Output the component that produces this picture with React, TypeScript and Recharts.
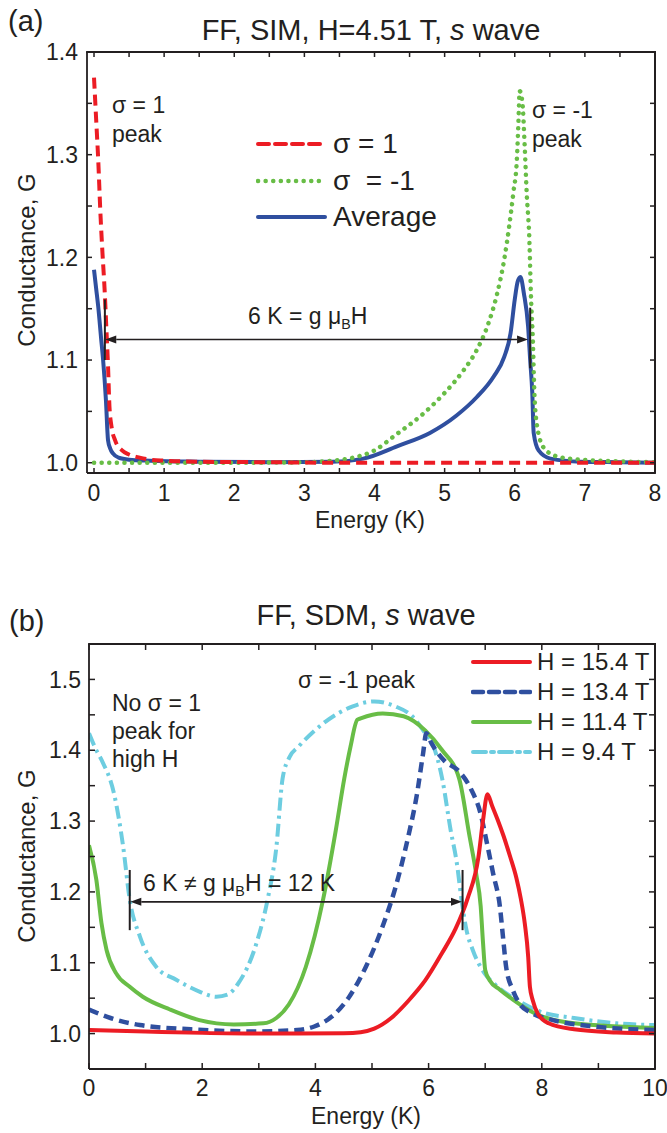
import React from "react";
import { LineChart, Line, XAxis, YAxis, ReferenceLine } from "recharts";

const FONT = '"Liberation Sans", Arial, Helvetica, sans-serif';
const INK = "#231f20";
const RED = "#ec1c24";
const BLUE = "#2f4f9f";
const GREEN = "#68bd46";
const CYAN = "#6dcde0";

// ---- panel (a): FF, SIM, H=4.51 T ----
const A_X_DOMAIN = [-0.1, 8];
const A_Y_DOMAIN = [0.99, 1.4];
const A_X_TICKS = [0, 0.5, 1, 1.5, 2, 2.5, 3, 3.5, 4, 4.5, 5, 5.5, 6, 6.5, 7, 7.5, 8];
const A_Y_TICKS = [1.0, 1.05, 1.1, 1.15, 1.2, 1.25, 1.3, 1.35, 1.4];

const A_UP_E = [0, 0.03, 0.06, 0.09, 0.12, 0.15, 0.18, 0.2, 0.22, 0.25, 0.3, 0.4, 0.5, 0.65, 0.8, 1, 1.5, 2.5, 3.5, 5, 6.5, 8];
const A_UP_G = [1.375, 1.335, 1.295, 1.245, 1.205, 1.17, 1.125, 1.094, 1.055, 1.035, 1.022, 1.012, 1.008, 1.005, 1.003, 1.002, 1.001, 1.0005, 1.0, 1.0, 1.0, 1.0];

const A_DN_E = [0, 1, 2, 3, 3.4, 3.7, 4.0, 4.3, 4.7, 5.0, 5.27, 5.46, 5.61, 5.75, 5.85, 5.92, 5.98, 6.03, 6.05, 6.07, 6.11, 6.14, 6.17, 6.21, 6.23, 6.26, 6.28, 6.32, 6.42, 6.61, 6.94, 7.65, 8];
const A_DN_G = [1.0, 1.0, 1.0, 1.0005, 1.002, 1.005, 1.012, 1.027, 1.048, 1.068, 1.09, 1.11, 1.133, 1.165, 1.198, 1.23, 1.263, 1.295, 1.327, 1.362, 1.35, 1.311, 1.263, 1.214, 1.165, 1.116, 1.068, 1.035, 1.014, 1.006, 1.003, 1.001, 1.0005];

const A_AVG_E = [0, 0.03, 0.06, 0.1, 0.13, 0.17, 0.2, 0.23, 0.27, 0.35, 0.5, 0.8, 1.5, 2.5, 3.4, 3.84, 4.32, 4.79, 5.17, 5.46, 5.7, 5.85, 5.94, 6.0, 6.04, 6.08, 6.13, 6.19, 6.22, 6.25, 6.27, 6.34, 6.51, 6.94, 7.5, 8];
const A_AVG_G = [1.188, 1.17, 1.152, 1.122, 1.1, 1.061, 1.022, 1.014, 1.009, 1.005, 1.003, 1.002, 1.001, 1.0005, 1.001, 1.004, 1.016, 1.029, 1.046, 1.064, 1.084, 1.103, 1.126, 1.159, 1.176, 1.181, 1.165, 1.133, 1.1, 1.068, 1.029, 1.012, 1.004, 1.001, 1.0005, 1.0];

// ---- panel (b): FF, SDM ----
const B_X_DOMAIN = [0, 10];
const B_Y_DOMAIN = [0.95, 1.55];
const B_X_TICKS = [0, 1, 2, 3, 4, 5, 6, 7, 8, 9, 10];
const B_Y_TICKS = [1.0, 1.05, 1.1, 1.15, 1.2, 1.25, 1.3, 1.35, 1.4, 1.45, 1.5];

const B_154_E = [0, 1, 2, 3, 3.7, 4.5, 4.8, 5.04, 5.34, 5.64, 5.94, 6.24, 6.47, 6.69, 6.88, 6.96, 7.04, 7.12, 7.22, 7.32, 7.44, 7.55, 7.63, 7.7, 7.76, 7.79, 7.84, 7.93, 8.12, 8.57, 9.32, 10];
const B_154_G = [1.005, 1.003, 1.001, 1.0, 1.0, 1.0005, 1.002, 1.007, 1.022, 1.046, 1.075, 1.114, 1.147, 1.191, 1.249, 1.3, 1.338, 1.322, 1.302, 1.28, 1.25, 1.22, 1.19, 1.155, 1.108, 1.066, 1.047, 1.028, 1.0145, 1.006, 1.0015, 1.0];

const B_134_E = [0, 0.38, 0.9, 1.8, 2.93, 3.68, 3.98, 4.29, 4.59, 4.89, 5.19, 5.41, 5.64, 5.79, 5.9, 5.96, 6.05, 6.28, 6.54, 6.75, 6.92, 7.02, 7.14, 7.26, 7.32, 7.37, 7.49, 7.6, 7.82, 8.2, 8.95, 10];
const B_134_G = [1.034, 1.022, 1.012, 1.006, 1.003, 1.005, 1.01, 1.024, 1.051, 1.094, 1.152, 1.205, 1.278, 1.336, 1.394, 1.424, 1.41, 1.385, 1.37, 1.345, 1.31, 1.273, 1.226, 1.179, 1.132, 1.094, 1.061, 1.043, 1.029, 1.019, 1.0097, 1.005];

const B_114_E = [0, 0.13, 0.22, 0.31, 0.48, 0.72, 0.95, 1.43, 1.95, 2.56, 3.08, 3.31, 3.53, 3.83, 4.14, 4.36, 4.51, 4.62, 4.74, 4.8, 5.19, 5.56, 5.94, 6.24, 6.54, 6.72, 6.84, 6.92, 6.96, 7.0, 7.08, 7.26, 7.49, 7.89, 8.57, 10];
const B_114_G = [1.266, 1.217, 1.156, 1.118, 1.085, 1.066, 1.052, 1.034, 1.019, 1.013, 1.0145, 1.022, 1.041, 1.094, 1.191, 1.287, 1.36, 1.405, 1.443, 1.445, 1.452, 1.448, 1.428, 1.4, 1.36, 1.28, 1.226, 1.18, 1.13, 1.09, 1.075, 1.062, 1.048, 1.028, 1.0145, 1.008];

const B_94_E = [0, 0.13, 0.23, 0.45, 0.6, 0.72, 0.9, 1.19, 1.54, 1.96, 2.25, 2.45, 2.63, 2.96, 3.16, 3.31, 3.42, 3.54, 3.7, 4.14, 4.66, 5.04, 5.41, 5.71, 5.94, 6.09, 6.24, 6.39, 6.5, 6.58, 6.67, 6.78, 6.99, 7.19, 7.59, 7.97, 8.57, 9.32, 10];
const B_94_G = [1.424, 1.4, 1.385, 1.336, 1.266, 1.189, 1.137, 1.094, 1.076, 1.059, 1.052, 1.055, 1.07, 1.128, 1.191, 1.263, 1.36, 1.39, 1.405, 1.438, 1.462, 1.469, 1.462, 1.448, 1.424, 1.405, 1.36, 1.287, 1.24, 1.19, 1.146, 1.118, 1.085, 1.068, 1.046, 1.031, 1.022, 1.0145, 1.012];

const zip = (e: number[], g: number[]) => e.map((x, i) => ({ e: x, g: g[i] }));

type Style = { label: string; color: string; dash?: string; cap?: "round" | "butt"; width: number; data: { e: number; g: number }[] };

const A_SERIES: Style[] = [
  { label: "Average", color: BLUE, width: 4, data: zip(A_AVG_E, A_AVG_G) },
  { label: "σ  = -1", color: GREEN, dash: "0.1 7.5", cap: "round", width: 4.5, data: zip(A_DN_E, A_DN_G) },
  { label: "σ = 1", color: RED, dash: "11 6", width: 4, data: zip(A_UP_E, A_UP_G) },
];
const A_LEGEND = [A_SERIES[2], A_SERIES[1], A_SERIES[0]];

const B_SERIES: Style[] = [
  { label: "H = 9.4 T", color: CYAN, dash: "13 5 3 5", width: 4, data: zip(B_94_E, B_94_G) },
  { label: "H = 11.4 T", color: GREEN, width: 4, data: zip(B_114_E, B_114_G) },
  { label: "H = 13.4 T", color: BLUE, dash: "10 6", width: 4.5, data: zip(B_134_E, B_134_G) },
  { label: "H = 15.4 T", color: RED, width: 4, data: zip(B_154_E, B_154_G) },
];
const B_LEGEND = [B_SERIES[3], B_SERIES[2], B_SERIES[1], B_SERIES[0]];

const tickFont = { fill: INK, fontSize: 23, fontFamily: FONT };
const axisStroke = { stroke: INK, strokeWidth: 1.8 };
const tickStroke = { stroke: INK, strokeWidth: 1.5 };
const AX = 10; // size reserved for each axis, taken off the margins

const isTenth = (v: number) => Math.abs(v * 10 - Math.round(v * 10)) < 1e-6;

const Arrow = (p: any) => {
  const { x1, y1, x2, y2 } = p;
  const h = 11;
  const w = 4;
  return (
    <g>
      <line x1={x1 + h} y1={y1} x2={x2 - h} y2={y2} stroke={INK} strokeWidth={1.6} />
      <polygon points={`${x1},${y1} ${x1 + h},${y1 - w} ${x1 + h},${y1 + w}`} fill={INK} />
      <polygon points={`${x2},${y2} ${x2 - h},${y2 - w} ${x2 - h},${y2 + w}`} fill={INK} />
    </g>
  );
};

// top/right frame edges with inward ticks, placed from an interior reference segment
type FrameCfg = { xDom: number[]; yDom: number[]; xTicks: number[]; yTicks: number[]; len: number; pa: number[]; pb: number[] };
const frameShape = (c: FrameCfg) => (p: any) => {
  const sx = (p.x2 - p.x1) / (c.pb[0] - c.pa[0]);
  const sy = (p.y2 - p.y1) / (c.pb[1] - c.pa[1]);
  const px = (v: number) => p.x1 + (v - c.pa[0]) * sx;
  const py = (v: number) => p.y1 + (v - c.pa[1]) * sy;
  const top = py(c.yDom[1]);
  const right = px(c.xDom[1]);
  return (
    <g>
      <line x1={px(c.xDom[0])} y1={top} x2={right} y2={top} stroke={INK} strokeWidth={1.8} strokeLinecap="square" />
      <line x1={right} y1={py(c.yDom[0])} x2={right} y2={top} stroke={INK} strokeWidth={1.8} strokeLinecap="square" />
      {c.xTicks.map((v) => (
        <line key={`x${v}`} x1={px(v)} x2={px(v)} y1={top} y2={top + c.len} stroke={INK} strokeWidth={1.5} />
      ))}
      {c.yTicks.map((v) => (
        <line key={`y${v}`} x1={right} x2={right - c.len} y1={py(v)} y2={py(v)} stroke={INK} strokeWidth={1.5} />
      ))}
    </g>
  );
};

const A_FRAME: FrameCfg = { xDom: A_X_DOMAIN, yDom: A_Y_DOMAIN, xTicks: A_X_TICKS, yTicks: A_Y_TICKS, len: 5, pa: [1, 1.1], pb: [7, 1.3] };
const B_FRAME: FrameCfg = { xDom: B_X_DOMAIN, yDom: B_Y_DOMAIN, xTicks: B_X_TICKS, yTicks: B_Y_TICKS, len: 6, pa: [1, 1.1], pb: [9, 1.5] };

// plain box edges (top + right) over each plot area
const Edge = ({ left, top, width, height }: any) => (
  <div
    style={{
      position: "absolute", left, top, width, height, boxSizing: "border-box",
      borderTop: `2px solid ${INK}`, borderRight: `2px solid ${INK}`, pointerEvents: "none",
    }}
  />
);

const Txt = ({ x, y, size = 23, anchor = "start", rotate = false, children }: any) => {
  const tx = anchor === "middle" ? "-50%" : anchor === "end" ? "-100%" : "0";
  return (
    <div
      style={{
        position: "absolute",
        left: x,
        top: y,
        transform: rotate ? "translate(-50%, -50%) rotate(-90deg)" : `translate(${tx}, -50%)`,
        fontSize: size,
        fontFamily: FONT,
        color: INK,
        whiteSpace: "pre",
        lineHeight: 1,
      }}
    >
      {children}
    </div>
  );
};

const Sub = ({ children }: any) => (
  <span style={{ fontSize: "0.62em", verticalAlign: "-0.35em" }}>{children}</span>
);

const LegendBox = ({ items, x, y, len, gap, rowH, size }: any) => (
  <div style={{ position: "absolute", left: x, top: y, fontFamily: FONT, color: INK }}>
    {items.map((s: Style) => (
      <div key={s.label} style={{ display: "flex", alignItems: "center", height: rowH }}>
        <svg width={len} height={10} style={{ marginRight: gap }}>
          <line x1={2} y1={5} x2={len - 2} y2={5} stroke={s.color} strokeWidth={s.width} strokeDasharray={s.dash} strokeLinecap={s.cap ?? "round"} />
        </svg>
        <span style={{ fontSize: size, whiteSpace: "pre", lineHeight: 1 }}>{s.label}</span>
      </div>
    ))}
  </div>
);

const yFmt = (v: number) => (isTenth(v) ? v.toFixed(1) : "");

const series = (list: Style[]) =>
  list.map((s) => (
    <Line key={s.label} data={s.data} dataKey="g" type="monotone" stroke={s.color} strokeWidth={s.width}
      strokeDasharray={s.dash} strokeLinecap={s.cap ?? "butt"} dot={false} activeDot={false} isAnimationActive={false} />
  ));

export default function App() {
  return (
    <div style={{ position: "absolute", left: 0, top: 0, width: 667, height: 1133, background: "#fff", overflow: "hidden" }}>
      <div style={{ position: "absolute", left: 0, top: 0 }}>
        <LineChart width={667} height={540} margin={{ top: 52, right: 12, bottom: 67 - AX, left: 87 - AX }}>
          <XAxis type="number" dataKey="e" domain={A_X_DOMAIN} ticks={A_X_TICKS} interval={0} allowDataOverflow height={AX}
            tickSize={-5} tickMargin={17} tickFormatter={(v: number) => (Number.isInteger(v) ? String(v) : "")}
            tick={tickFont} axisLine={axisStroke} tickLine={tickStroke} />
          <YAxis type="number" domain={A_Y_DOMAIN} ticks={A_Y_TICKS} interval={0} allowDataOverflow width={AX}
            tickSize={-5} tickMargin={14} tickFormatter={yFmt} tick={tickFont} axisLine={axisStroke} tickLine={tickStroke} />
          {series(A_SERIES)}
          <ReferenceLine segment={[{ x: 0.155, y: 1.1 }, { x: 0.155, y: 1.159 }]} stroke={INK} strokeWidth={2} />
          <ReferenceLine segment={[{ x: 6.22, y: 1.092 }, { x: 6.22, y: 1.151 }]} stroke={INK} strokeWidth={2} />
          <ReferenceLine segment={[{ x: 0.16, y: 1.12 }, { x: 6.19, y: 1.12 }]} shape={Arrow} />
          <ReferenceLine segment={[{ x: A_FRAME.pa[0], y: A_FRAME.pa[1] }, { x: A_FRAME.pb[0], y: A_FRAME.pb[1] }]} shape={frameShape(A_FRAME)} />
        </LineChart>
      </div>
      <div style={{ position: "absolute", left: 0, top: 560 }}>
        <LineChart width={667} height={573} margin={{ top: 84, right: 12, bottom: 64 - AX, left: 89 - AX }}>
          <XAxis type="number" dataKey="e" domain={B_X_DOMAIN} ticks={B_X_TICKS} interval={0} allowDataOverflow height={AX}
            tickSize={-6} tickMargin={17} tickFormatter={(v: number) => (v % 2 === 0 ? String(v) : "")}
            tick={tickFont} axisLine={axisStroke} tickLine={tickStroke} />
          <YAxis type="number" domain={B_Y_DOMAIN} ticks={B_Y_TICKS} interval={0} allowDataOverflow width={AX}
            tickSize={-6} tickMargin={14} tickFormatter={yFmt} tick={tickFont} axisLine={axisStroke} tickLine={tickStroke} />
          {series(B_SERIES)}
          <ReferenceLine segment={[{ x: 0.72, y: 1.146 }, { x: 0.72, y: 1.231 }]} stroke={INK} strokeWidth={2} />
          <ReferenceLine segment={[{ x: 6.6, y: 1.146 }, { x: 6.6, y: 1.231 }]} stroke={INK} strokeWidth={2} />
          <ReferenceLine segment={[{ x: 0.73, y: 1.186 }, { x: 6.59, y: 1.186 }]} shape={Arrow} />
          <ReferenceLine segment={[{ x: B_FRAME.pa[0], y: B_FRAME.pa[1] }, { x: B_FRAME.pb[0], y: B_FRAME.pb[1] }]} shape={frameShape(B_FRAME)} />
        </LineChart>
      </div>

      <Edge left={87} top={51} width={569} height={422} />
      <Edge left={89} top={643} width={567} height={426} />

      {/* panel (a) text */}
      <Txt x={8} y={21} size={29}>(a)</Txt>
      <Txt x={371} y={30} size={29} anchor="middle">FF, SIM, H=4.51 T, <i>s</i> wave</Txt>
      <Txt x={27} y={260} size={24} rotate>Conductance, G</Txt>
      <Txt x={370} y={520} size={23} anchor="middle">Energy (K)</Txt>
      <Txt x={112} y={105} size={23}>σ = 1</Txt>
      <Txt x={112} y={134} size={23}>peak</Txt>
      <Txt x={532} y={110} size={23}>σ = -1</Txt>
      <Txt x={532} y={139} size={23}>peak</Txt>
      <Txt x={248} y={318} size={23}>6 K = g μ<Sub>B</Sub>H</Txt>
      <LegendBox items={A_LEGEND} x={256} y={126} len={71} gap={6} rowH={36.5} size={28} />

      {/* panel (b) text */}
      <Txt x={9} y={621} size={29}>(b)</Txt>
      <Txt x={366} y={615} size={29} anchor="middle">FF, SDM, <i>s</i> wave</Txt>
      <Txt x={27} y={856} size={24} rotate>Conductance, G</Txt>
      <Txt x={366} y={1116} size={23} anchor="middle">Energy (K)</Txt>
      <Txt x={298} y={680} size={23}>σ = -1 peak</Txt>
      <Txt x={112} y={703} size={23}>No σ = 1</Txt>
      <Txt x={112} y={731} size={23}>peak for</Txt>
      <Txt x={112} y={759} size={23}>high H</Txt>
      <Txt x={143} y={885} size={23}>6 K ≠ g μ<Sub>B</Sub>H = 12 K</Txt>
      <LegendBox items={B_LEGEND} x={471} y={647} len={61} gap={5} rowH={30} size={24} />
    </div>
  );
}
